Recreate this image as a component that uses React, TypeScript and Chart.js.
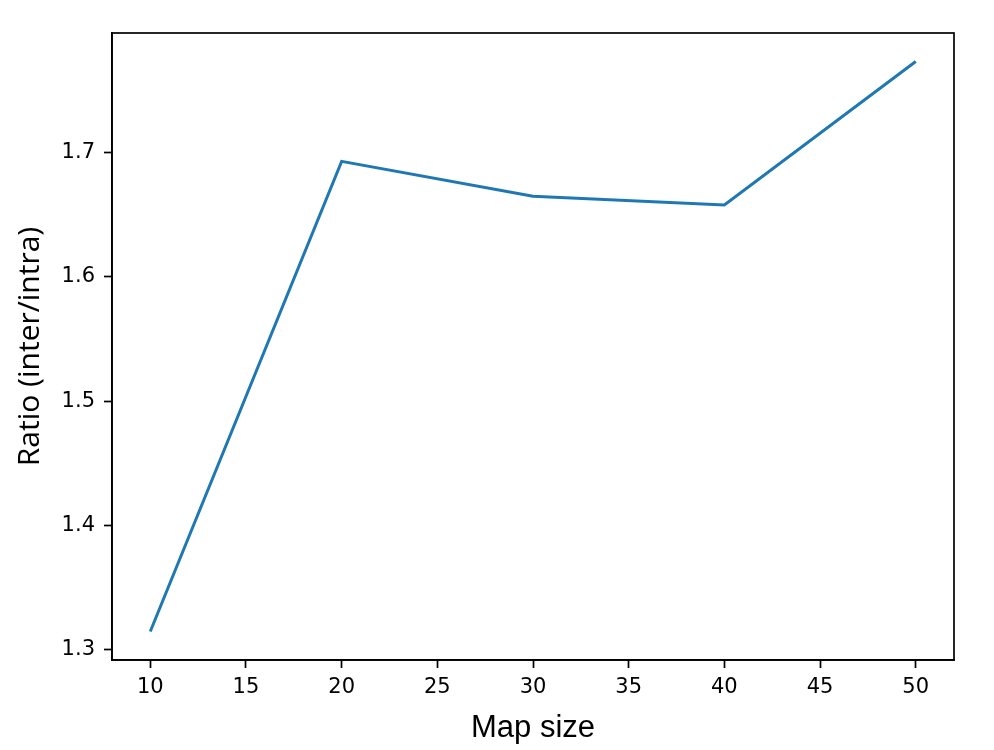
import React, { useEffect, useRef } from "react";
import { Chart, registerables } from "chart.js";

Chart.register(...registerables);

const MAP_SIZES = [10, 20, 30, 40, 50];
const RATIOS = [1.3147, 1.693, 1.6649, 1.658, 1.7734];
const X_TICKS = [10, 15, 20, 25, 30, 35, 40, 45, 50];
const Y_TICKS = [1.3, 1.4, 1.5, 1.6, 1.7];
const X_LABEL = "Map size";
const Y_LABEL = "Ratio (inter/intra)";

const frame = {
  id: "frame",
  afterDraw(chart: any) {
    const { ctx, chartArea } = chart;
    ctx.save();
    ctx.strokeStyle = "#000";
    ctx.lineWidth = 1.7;
    ctx.strokeRect(chartArea.left, chartArea.top, chartArea.right - chartArea.left, chartArea.bottom - chartArea.top);
    ctx.restore();
  },
};

export default function App() {
  const ref = useRef<HTMLCanvasElement | null>(null);
  useEffect(() => {
    if (!ref.current) return;
    const chart = new Chart(ref.current, {
      type: "line",
      data: {
        datasets: [
          {
            data: MAP_SIZES.map((x, i) => ({ x, y: RATIOS[i] })),
            borderColor: "#1f77b4",
            borderWidth: 3,
            pointRadius: 0,
            tension: 0,
            fill: false,
          },
        ],
      },
      options: {
        animation: false,
        responsive: false,
        maintainAspectRatio: false,
        layout: { padding: { left: 0, top: 33, right: 40, bottom: 0 } },
        plugins: { legend: { display: false }, tooltip: { enabled: false } },
        scales: {
          x: {
            type: "linear",
            min: 8,
            max: 52,
            afterBuildTicks: (s: any) => {
              s.ticks = X_TICKS.map((v) => ({ value: v }));
            },
            afterFit: (s: any) => {
              s.height = 90;
            },
            grid: { drawOnChartArea: false, drawTicks: true, tickLength: 8, tickWidth: 1.7, tickColor: "#000" },
            border: { display: true, color: "#000", width: 1.7 },
            ticks: {
              color: "#000",
              padding: 7,
              maxRotation: 0,
              autoSkip: false,
              font: { family: "DejaVu Sans", size: 21 },
              callback: (v: any) => String(v),
            },
            title: {
              display: true,
              text: X_LABEL,
              color: "#000",
              font: { family: "Liberation Sans", size: 31 },
              padding: { top: 0, bottom: 3 },
            },
          },
          y: {
            type: "linear",
            min: 1.2918,
            max: 1.7963,
            afterBuildTicks: (s: any) => {
              s.ticks = Y_TICKS.map((v) => ({ value: v }));
            },
            afterFit: (s: any) => {
              s.width = 112;
            },
            grid: { drawOnChartArea: false, drawTicks: true, tickLength: 8, tickWidth: 1.7, tickColor: "#000" },
            border: { display: true, color: "#000", width: 1.7 },
            ticks: {
              color: "#000",
              padding: 9,
              autoSkip: false,
              font: { family: "DejaVu Sans", size: 21 },
              callback: (v: any) => Number(v).toFixed(1),
            },
            title: {
              display: true,
              text: Y_LABEL,
              color: "#000",
              font: { family: "Open Sans", size: 30 },
              padding: { top: 12, bottom: 0 },
            },
          },
        },
      },
      plugins: [frame],
    });
    return () => chart.destroy();
  }, []);
  return (
    <div style={{ position: "absolute", left: 0, top: 0, width: 994, height: 750, background: "#fff" }}>
      <canvas ref={ref} width={994} height={750} style={{ width: 994, height: 750, display: "block" }} />
    </div>
  );
}
